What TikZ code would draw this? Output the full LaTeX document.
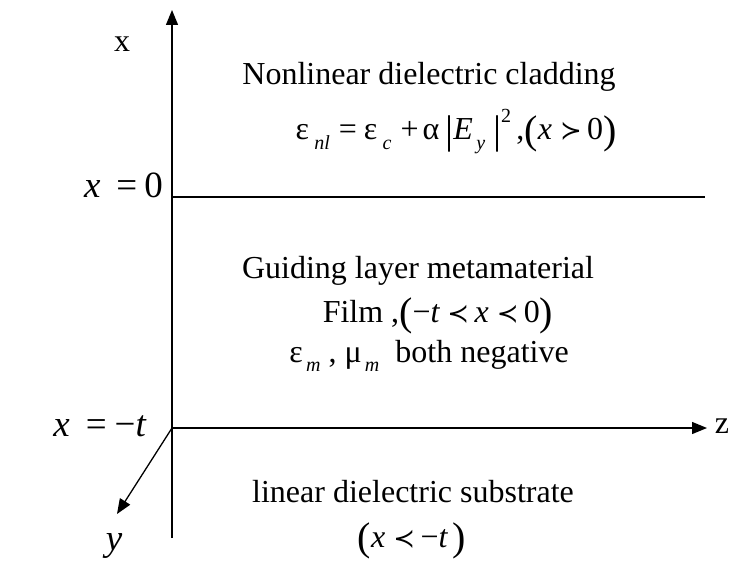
\documentclass[tikz,border=0pt]{standalone}
\usepackage{amsmath}
\usepackage{fontspec}
\setmainfont{Liberation Serif}
\newfontfamily\relfont{DejaVu Sans}
\usetikzlibrary{arrows.meta}

\newcommand{\lowsub}[1]{\raisebox{-0.3em}{\fontsize{20}{22}\selectfont\itshape #1}}
\newcommand{\rprec}{{\relfont\fontsize{26}{28}\selectfont ≺}}
\newcommand{\rsucc}{{\relfont\fontsize{26}{28}\selectfont ≻}}
\newcommand{\tallch}[1]{\raisebox{-0.12em}{\fontsize{40}{40}\selectfont #1}}

\tikzset{
  axis/.style={line width=1.3pt},
  axisarrow/.style={axis,-{Triangle[length=15pt,width=12pt]}},
  lbl/.style={font=\fontsize{32}{36}\selectfont,inner sep=0pt,anchor=base},
  biglbl/.style={font=\fontsize{37}{40}\selectfont,inner sep=0pt},
}

\begin{document}
\begin{tikzpicture}[x=1pt,y=-1pt]
        \useasboundingbox (0,0) rectangle (730,564);

        % axes
        \coordinate (o) at (172,428);
        \coordinate (top) at (172,10);
        \coordinate (bot) at (172,538);
        \coordinate (ztip) at (707,428);
        \coordinate (ytip) at (117,514);
        \coordinate (left0) at (172,197);
        \coordinate (right0) at (705,197);
        \draw[axisarrow] (bot) -- (top);
        \draw[axisarrow] (o) -- (ztip);
        \draw[axisarrow] (o) -- (ytip);
        \draw[axis] (left0) -- (right0);

        \node[lbl,anchor=center] (xlab) at (122,44) {x};
        \node[lbl,anchor=center] (zlab) at (722,426) {z};
        \node[biglbl] (ylab) at (114,546) {\itshape y};
        \node[biglbl,anchor=base east] (x0) at (163,197) {\itshape x\hspace{16pt}\upshape =\hspace{7pt}0};
        \node[biglbl,anchor=base east] (xt) at (146,436) {\itshape x\hspace{16pt}\upshape =\hspace{8pt}−\itshape t};

        % cladding
        \node[lbl] (clad) at (429,85) {Nonlinear dielectric cladding};
        \node[lbl] (cladeq) at (456,140)
            {ε\,\lowsub{nl}\hspace{9pt}=\hspace{7pt}ε\,\lowsub{c}\hspace{9pt}+\hspace{4pt}α\hspace{6pt}\tallch{|}\itshape E\lowsub{\,y}\upshape\ \tallch{|}\raisebox{0.55em}{\fontsize{20}{22}\selectfont 2}\,,\tallch{(}\itshape x \upshape\rsucc\,0\tallch{)}};

        % film
        \node[lbl] (guide) at (418,278) {Guiding layer metamaterial};
        \node[lbl] (film) at (438,322) {Film ,\tallch{(}−\itshape t \upshape\rprec\,\itshape x \upshape\rprec\,0\tallch{)}};
        \node[lbl] (neg) at (429,362) {ε\lowsub{\,m} , μ\lowsub{\,m} \ both negative};

        % substrate
        \node[lbl] (sub) at (413,502) {linear dielectric substrate};
        \node[lbl] (subx) at (412,547) {\tallch{(}\itshape x \upshape\rprec\,−\itshape t\upshape\,\tallch{)}};
\end{tikzpicture}
\end{document}
